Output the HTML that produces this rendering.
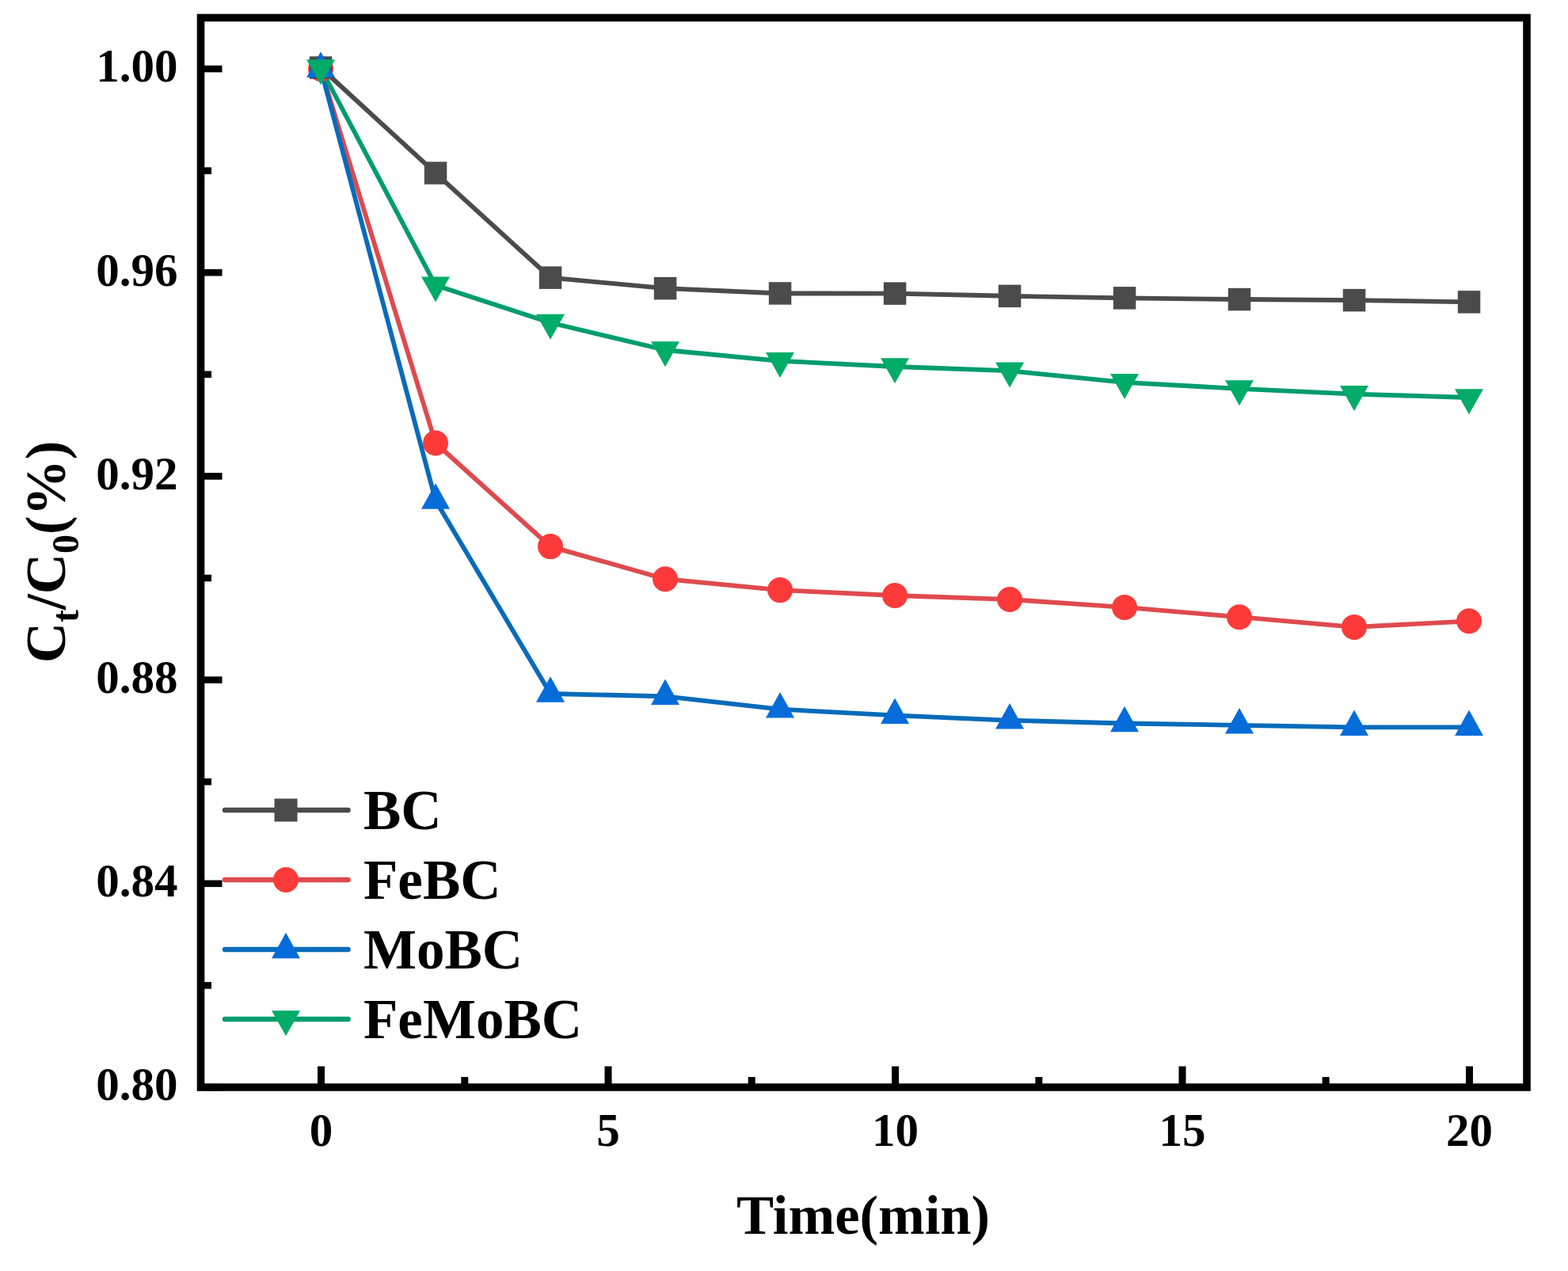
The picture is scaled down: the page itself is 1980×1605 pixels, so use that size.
<!DOCTYPE html>
<html><head><meta charset="utf-8"><title>Ct/C0 vs Time</title>
<style>
html,body{margin:0;padding:0;background:#fff;}
body{width:1980px;height:1605px;overflow:hidden;}
svg{display:block;}
text{font-family:"Liberation Serif","Times New Roman",serif;font-weight:bold;fill:#000;}
</style></head><body>
<svg width="1980" height="1605" viewBox="0 0 1980 1605">
<rect width="1980" height="1605" fill="#fff"/>
<polyline points="405.0,85.5 550.0,218.6 695.0,350.6 840.0,364.2 985.0,370.5 1130.0,370.6 1275.0,373.8 1420.0,376.4 1565.0,378.0 1710.0,379.1 1855.0,381.4" fill="none" stroke="#4b4b4b" stroke-width="5.8" stroke-linejoin="round"/>
<polyline points="405.0,87.0 550.0,559.5 695.0,690.1 840.0,731.2 985.0,745.1 1130.0,752.0 1275.0,757.0 1420.0,766.9 1565.0,779.2 1710.0,791.9 1855.0,784.3" fill="none" stroke="#de4a4e" stroke-width="5.8" stroke-linejoin="round"/>
<polyline points="405.0,87.0 550.0,632.0 695.0,876.0 840.0,879.3 985.0,895.7 1130.0,903.3 1275.0,909.7 1420.0,913.5 1565.0,915.8 1710.0,918.3 1855.0,918.3" fill="none" stroke="#086bba" stroke-width="5.8" stroke-linejoin="round"/>
<polyline points="405.0,86.0 550.0,360.3 695.0,407.5 840.0,442.0 985.0,455.8 1130.0,463.0 1275.0,468.3 1420.0,482.8 1565.0,490.9 1710.0,497.7 1855.0,502.0" fill="none" stroke="#009c6e" stroke-width="5.8" stroke-linejoin="round"/>
<circle cx="405.0" cy="87.0" r="16" fill="#fc3a3a"/>
<circle cx="550.0" cy="559.5" r="16" fill="#fc3a3a"/>
<circle cx="695.0" cy="690.1" r="16" fill="#fc3a3a"/>
<circle cx="840.0" cy="731.2" r="16" fill="#fc3a3a"/>
<circle cx="985.0" cy="745.1" r="16" fill="#fc3a3a"/>
<circle cx="1130.0" cy="752.0" r="16" fill="#fc3a3a"/>
<circle cx="1275.0" cy="757.0" r="16" fill="#fc3a3a"/>
<circle cx="1420.0" cy="766.9" r="16" fill="#fc3a3a"/>
<circle cx="1565.0" cy="779.2" r="16" fill="#fc3a3a"/>
<circle cx="1710.0" cy="791.9" r="16" fill="#fc3a3a"/>
<circle cx="1855.0" cy="784.3" r="16" fill="#fc3a3a"/>
<rect x="390.8" y="71.2" width="28.5" height="28.5" fill="#4b4b4b"/>
<rect x="535.8" y="204.3" width="28.5" height="28.5" fill="#4b4b4b"/>
<rect x="680.8" y="336.4" width="28.5" height="28.5" fill="#4b4b4b"/>
<rect x="825.8" y="349.9" width="28.5" height="28.5" fill="#4b4b4b"/>
<rect x="970.8" y="356.2" width="28.5" height="28.5" fill="#4b4b4b"/>
<rect x="1115.8" y="356.4" width="28.5" height="28.5" fill="#4b4b4b"/>
<rect x="1260.8" y="359.6" width="28.5" height="28.5" fill="#4b4b4b"/>
<rect x="1405.8" y="362.1" width="28.5" height="28.5" fill="#4b4b4b"/>
<rect x="1550.8" y="363.8" width="28.5" height="28.5" fill="#4b4b4b"/>
<rect x="1695.8" y="364.9" width="28.5" height="28.5" fill="#4b4b4b"/>
<rect x="1840.8" y="367.1" width="28.5" height="28.5" fill="#4b4b4b"/>
<polygon points="405.0,65.3 423.0,97.8 387.0,97.8" fill="#056cda"/>
<polygon points="550.0,610.3 568.0,642.8 532.0,642.8" fill="#056cda"/>
<polygon points="695.0,854.3 713.0,886.8 677.0,886.8" fill="#056cda"/>
<polygon points="840.0,857.6 858.0,890.1 822.0,890.1" fill="#056cda"/>
<polygon points="985.0,874.0 1003.0,906.5 967.0,906.5" fill="#056cda"/>
<polygon points="1130.0,881.6 1148.0,914.1 1112.0,914.1" fill="#056cda"/>
<polygon points="1275.0,888.0 1293.0,920.5 1257.0,920.5" fill="#056cda"/>
<polygon points="1420.0,891.8 1438.0,924.3 1402.0,924.3" fill="#056cda"/>
<polygon points="1565.0,894.1 1583.0,926.6 1547.0,926.6" fill="#056cda"/>
<polygon points="1710.0,896.6 1728.0,929.1 1692.0,929.1" fill="#056cda"/>
<polygon points="1855.0,896.6 1873.0,929.1 1837.0,929.1" fill="#056cda"/>
<polygon points="387.0,75.3 423.0,75.3 405.0,107.3" fill="#00ac68"/>
<polygon points="532.0,349.6 568.0,349.6 550.0,381.6" fill="#00ac68"/>
<polygon points="677.0,396.8 713.0,396.8 695.0,428.8" fill="#00ac68"/>
<polygon points="822.0,431.3 858.0,431.3 840.0,463.3" fill="#00ac68"/>
<polygon points="967.0,445.1 1003.0,445.1 985.0,477.1" fill="#00ac68"/>
<polygon points="1112.0,452.3 1148.0,452.3 1130.0,484.3" fill="#00ac68"/>
<polygon points="1257.0,457.6 1293.0,457.6 1275.0,489.6" fill="#00ac68"/>
<polygon points="1402.0,472.1 1438.0,472.1 1420.0,504.1" fill="#00ac68"/>
<polygon points="1547.0,480.2 1583.0,480.2 1565.0,512.2" fill="#00ac68"/>
<polygon points="1692.0,487.0 1728.0,487.0 1710.0,519.0" fill="#00ac68"/>
<polygon points="1837.0,491.3 1873.0,491.3 1855.0,523.3" fill="#00ac68"/>
<rect x="253.5" y="22.4" width="1674.5" height="1350.6" fill="none" stroke="#000" stroke-width="9.6"/>
<line x1="258" y1="87.0" x2="280.5" y2="87.0" stroke="#000" stroke-width="8.6"/>
<text x="224.5" y="103.3" font-size="59" text-anchor="end">1.00</text>
<line x1="258" y1="344.2" x2="280.5" y2="344.2" stroke="#000" stroke-width="8.6"/>
<text x="224.5" y="360.5" font-size="59" text-anchor="end">0.96</text>
<line x1="258" y1="601.4" x2="280.5" y2="601.4" stroke="#000" stroke-width="8.6"/>
<text x="224.5" y="617.7" font-size="59" text-anchor="end">0.92</text>
<line x1="258" y1="858.6" x2="280.5" y2="858.6" stroke="#000" stroke-width="8.6"/>
<text x="224.5" y="874.9" font-size="59" text-anchor="end">0.88</text>
<line x1="258" y1="1115.8" x2="280.5" y2="1115.8" stroke="#000" stroke-width="8.6"/>
<text x="224.5" y="1132.1" font-size="59" text-anchor="end">0.84</text>
<line x1="258" y1="1373.0" x2="280.5" y2="1373.0" stroke="#000" stroke-width="8.6"/>
<text x="224.5" y="1389.3" font-size="59" text-anchor="end">0.80</text>
<line x1="258" y1="215.6" x2="267" y2="215.6" stroke="#000" stroke-width="8.6"/>
<line x1="258" y1="472.8" x2="267" y2="472.8" stroke="#000" stroke-width="8.6"/>
<line x1="258" y1="730.0" x2="267" y2="730.0" stroke="#000" stroke-width="8.6"/>
<line x1="258" y1="987.2" x2="267" y2="987.2" stroke="#000" stroke-width="8.6"/>
<line x1="258" y1="1244.4" x2="267" y2="1244.4" stroke="#000" stroke-width="8.6"/>
<line x1="405.5" y1="1369" x2="405.5" y2="1346.5" stroke="#000" stroke-width="9"/>
<text x="405.5" y="1447.3" font-size="59" text-anchor="middle">0</text>
<line x1="768.0" y1="1369" x2="768.0" y2="1346.5" stroke="#000" stroke-width="9"/>
<text x="768.0" y="1447.3" font-size="59" text-anchor="middle">5</text>
<line x1="1130.5" y1="1369" x2="1130.5" y2="1346.5" stroke="#000" stroke-width="9"/>
<text x="1130.5" y="1447.3" font-size="59" text-anchor="middle">10</text>
<line x1="1493.0" y1="1369" x2="1493.0" y2="1346.5" stroke="#000" stroke-width="9"/>
<text x="1493.0" y="1447.3" font-size="59" text-anchor="middle">15</text>
<line x1="1855.5" y1="1369" x2="1855.5" y2="1346.5" stroke="#000" stroke-width="9"/>
<text x="1855.5" y="1447.3" font-size="59" text-anchor="middle">20</text>
<line x1="586.8" y1="1369" x2="586.8" y2="1360" stroke="#000" stroke-width="9"/>
<line x1="949.2" y1="1369" x2="949.2" y2="1360" stroke="#000" stroke-width="9"/>
<line x1="1311.8" y1="1369" x2="1311.8" y2="1360" stroke="#000" stroke-width="9"/>
<line x1="1674.2" y1="1369" x2="1674.2" y2="1360" stroke="#000" stroke-width="9"/>
<line x1="284" y1="1023" x2="439.5" y2="1023" stroke="#4b4b4b" stroke-width="6.5" stroke-linecap="round"/>
<rect x="346.5" y="1008.5" width="29" height="29" fill="#4b4b4b"/>
<text x="459" y="1046.5" font-size="71">BC</text>
<line x1="284" y1="1111" x2="439.5" y2="1111" stroke="#de4a4e" stroke-width="6.5" stroke-linecap="round"/>
<circle cx="361.0" cy="1111.0" r="16" fill="#fc3a3a"/>
<text x="459" y="1134.5" font-size="71">FeBC</text>
<line x1="284" y1="1199" x2="439.5" y2="1199" stroke="#086bba" stroke-width="6.5" stroke-linecap="round"/>
<polygon points="361.0,1177.8 379.0,1210.3 343.0,1210.3" fill="#056cda"/>
<text x="459" y="1222.5" font-size="71">MoBC</text>
<line x1="284" y1="1287" x2="439.5" y2="1287" stroke="#009c6e" stroke-width="6.5" stroke-linecap="round"/>
<polygon points="343.0,1276.3 379.0,1276.3 361.0,1308.3" fill="#00ac68"/>
<text x="459" y="1310.5" font-size="71">FeMoBC</text>
<text x="1090" y="1558.3" font-size="70.5" text-anchor="middle">Time(min)</text>
<text transform="translate(81.5,697) rotate(-90)" font-size="71" text-anchor="middle">C<tspan font-size="48" dy="17">t</tspan><tspan dy="-17">/C</tspan><tspan font-size="48" dy="17">0</tspan><tspan dy="-17">(%)</tspan></text>
</svg></body></html>
